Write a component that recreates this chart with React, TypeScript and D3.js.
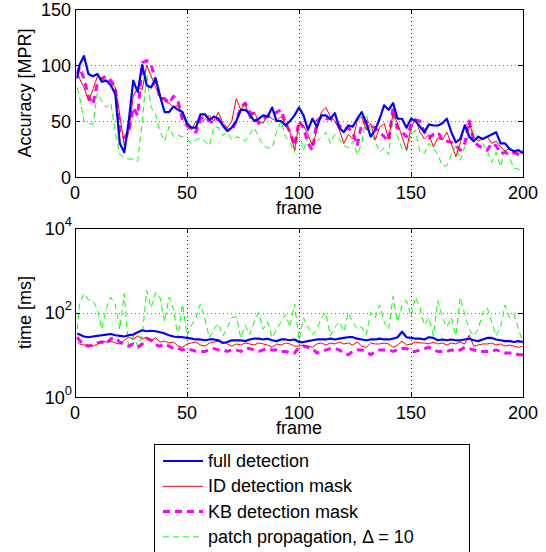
import React, { useEffect, useRef } from 'react'
import * as d3 from 'd3'

// frame numbers the values were read at (first frame, then every 2nd frame)
const frames = [1, ...d3.range(2, 201, 2)]

// top panel: accuracy [MPR]
const accFull = [88,100,108,92,90,92,85,86,82,74,30,22,50,86,76,100,82,80,88,72,58,58,63,60,58,
  48,44,44,56,56,51,54,52,46,41,44,50,60,60,56,50,52,55,54,62,50,50,46,50,55,
  62,55,42,52,45,55,55,52,57,44,40,46,45,52,58,48,36,42,52,64,60,66,52,52,44,
  52,50,45,40,47,46,46,48,52,40,31,34,46,36,32,36,34,36,38,40,30,30,25,23,24,21]
const accID = [95,88,80,68,78,90,88,86,85,80,55,28,40,72,80,78,100,90,80,72,68,66,62,64,56,
  46,42,50,48,52,55,50,58,48,44,50,70,60,66,52,58,50,48,55,52,50,54,48,40,24,
  48,46,38,28,42,58,62,54,50,42,30,38,34,50,54,42,48,33,44,48,34,57,48,36,24,
  44,52,40,34,38,27,35,33,40,30,18,30,46,48,36,32,34,36,30,32,27,23,26,22,21,23]
const accKB = [92,98,88,72,65,84,88,90,86,80,42,35,40,62,55,102,104,100,86,70,70,66,72,68,50,
  46,42,40,52,54,50,48,52,46,42,42,50,62,66,58,56,48,52,54,55,58,60,48,40,28,
  50,44,30,24,50,54,52,52,50,46,42,44,40,28,48,50,46,44,40,36,32,62,44,40,36,
  46,51,50,40,35,38,40,33,32,31,28,24,30,50,32,28,26,24,30,28,21,22,20,22,20,23]
const accPatch = [80,72,50,48,47,75,68,62,66,40,20,17,16,16,14,50,92,62,56,40,32,45,36,37,36,
  34,30,33,35,32,28,45,44,37,40,33,36,35,32,38,44,36,28,26,26,40,50,36,31,22,
  40,24,36,28,32,36,40,30,38,34,28,26,32,20,30,56,40,32,22,26,20,54,36,26,23,
  38,42,22,21,30,26,20,10,10,20,28,15,27,38,42,34,30,24,13,22,9,26,17,8,7,5]

// bottom panel: time [ms]
const timeFull = [32,30,27,26,27,28,29,30,31,29,28,27,29,30,34,38,36,37,36,34,32,29,27,26,26,
  25,24,23,23,22,23,23,22,19,20,22,22,22,21,23,24,24,23,24,22,21,23,23,22,23,
  20,20,21,22,23,23,23,24,23,24,25,26,26,24,23,22,23,23,24,23,23,24,26,35,26,
  25,24,24,23,26,25,22,23,22,23,22,22,23,24,22,21,23,25,25,23,22,21,21,20,21,20]
const timeID = [20,18,17,17,16,18,21,20,21,19,18,22,26,23,28,24,26,22,25,20,21,19,20,16,15,
  18,19,20,17,16,19,20,21,20,18,16,18,17,19,18,17,19,18,17,15,18,17,19,18,16,
  16,17,16,15,18,19,17,19,18,20,18,19,17,20,16,15,19,18,18,19,18,15,17,21,17,
  18,20,19,19,18,20,18,19,17,19,18,20,18,29,16,17,18,18,19,17,18,16,17,16,15,16]
const timeKB = [26,22,17,16,17,19,20,18,24,25,20,17,16,18,15,18,24,22,17,16,18,16,14,14,13,
  14,13,12,12,12,13,14,13,13,12,13,13,12,14,14,13,12,13,14,13,13,12,12,11,11,
  15,16,15,14,11,12,13,14,14,13,11,10,12,13,13,12,10,12,13,13,13,12,13,14,14,
  12,12,13,14,15,13,12,12,12,13,12,13,15,14,13,12,12,12,12,13,12,11,11,11,10,10]
const timePatch = [40,160,280,200,190,120,40,130,230,150,40,280,13,28,16,28,330,130,300,220,60,230,120,25,160,
  28,50,75,160,70,25,40,55,28,45,75,80,25,50,30,60,100,40,60,25,40,60,90,45,160,
  22,75,45,30,40,75,100,28,45,60,35,100,60,40,45,30,100,75,150,60,40,240,60,150,190,
  80,230,130,50,75,28,190,75,45,75,28,230,90,40,28,40,100,130,60,28,45,150,75,90,40,20]

const seriesNames = ['full detection', 'ID detection mask', 'KB detection mask', 'patch propagation, \u0394 = 10']
const xTicks = [0, 50, 100, 150, 200]
const accTicks = [0, 50, 100, 150]
const timeTicks = [1, 100, 10000]
const timeExps = ['0', '2', '4']

const colors = ['#0000ff', '#ff0000', '#ff00ff', '#00ff00']
const widths = [2.2, 1, 3, 1]
const dashes = ['none', 'none', '7,5', '6,4']
const FONT = '"Liberation Sans", Arial, Helvetica, sans-serif'

function App() {
  const svgRef = useRef<SVGSVGElement>(null)

  useEffect(() => {
    const svg = d3.select(svgRef.current)
    svg.selectAll('*').remove()

    const x = d3.scaleLinear().domain([0, 200]).range([75, 523])
    const yAcc = d3.scaleLinear().domain([0, 150]).range([177, 9])
    const yTime = d3.scaleLog().domain([1, 10000]).range([397, 228])

    const panel = (id: string, y: any, ticks: number[], data: number[][], yLabel: string, logLabels: boolean) => {
      const [yb, yt] = y.range()
      const [xl, xr] = x.range()
      const g = svg.append('g')

      g.append('clipPath').attr('id', id).append('rect')
        .attr('x', xl).attr('y', yt).attr('width', xr - xl).attr('height', yb - yt)

      // dotted grid
      g.selectAll('.vg').data(xTicks.slice(1, -1)).join('line')
        .attr('x1', d => Math.round(x(d)) + 0.5).attr('x2', d => Math.round(x(d)) + 0.5)
        .attr('y1', yt).attr('y2', yb)
        .attr('stroke', '#333').attr('stroke-dasharray', '1,3')
      g.selectAll('.hg').data(ticks.slice(1, -1)).join('line')
        .attr('x1', xl).attr('x2', xr)
        .attr('y1', d => Math.round(y(d)) + 0.5).attr('y2', d => Math.round(y(d)) + 0.5)
        .attr('stroke', '#777').attr('stroke-dasharray', '1,3')

      // series, blue drawn last
      const line = d3.line<number>().x((_, j) => x(frames[j])).y(d => y(d))
      ;[3, 2, 1, 0].forEach(i => {
        g.append('path')
          .attr('d', line(data[i]))
          .attr('clip-path', `url(#${id})`)
          .attr('fill', 'none')
          .attr('stroke', colors[i])
          .attr('stroke-width', widths[i])
          .attr('stroke-dasharray', dashes[i])
          .attr('stroke-linejoin', 'round')
      })

      // box + inward ticks
      g.append('rect').attr('x', xl + 0.5).attr('y', yt + 0.5)
        .attr('width', xr - xl).attr('height', yb - yt)
        .attr('fill', 'none').attr('stroke', '#000')
      xTicks.forEach(t => {
        const px = Math.round(x(t)) + 0.5
        g.append('line').attr('x1', px).attr('x2', px).attr('y1', yb).attr('y2', yb - 5).attr('stroke', '#000')
        g.append('line').attr('x1', px).attr('x2', px).attr('y1', yt).attr('y2', yt + 5).attr('stroke', '#000')
        g.append('text').attr('x', x(t)).attr('y', yb + 22)
          .attr('text-anchor', 'middle').attr('font-size', 18).text(t)
      })
      ticks.forEach((t, k) => {
        const py = Math.round(y(t)) + 0.5
        g.append('line').attr('x1', xl).attr('x2', xl + 5).attr('y1', py).attr('y2', py).attr('stroke', '#000')
        g.append('line').attr('x1', xr).attr('x2', xr - 5).attr('y1', py).attr('y2', py).attr('stroke', '#000')
        const txt = g.append('text').attr('x', logLabels ? 72 : 71).attr('y', y(t) + 6.5)
          .attr('text-anchor', 'end').attr('font-size', 18)
        if (logLabels) {
          txt.text('10')
          txt.append('tspan').attr('dy', -9).attr('font-size', 13).text(timeExps[k])
        } else {
          txt.text(t)
        }
      })

      g.append('text').attr('x', (xl + xr) / 2).attr('y', yb + 37)
        .attr('text-anchor', 'middle').attr('font-size', 18).text('frame')
      g.append('text')
        .attr('transform', `translate(31,${(yt + yb) / 2}) rotate(-90)`)
        .attr('text-anchor', 'middle').attr('font-size', 18).text(yLabel)
    }

    panel('clipAcc', yAcc, accTicks, [accFull, accID, accKB, accPatch], 'Accuracy [MPR]', false)
    panel('clipTime', yTime, timeTicks, [timeFull, timeID, timeKB, timePatch], 'time [ms]', true)

    // legend
    const lg = svg.append('g')
    lg.append('rect').attr('x', 154.5).attr('y', 444.5).attr('width', 315).attr('height', 120)
      .attr('fill', '#fff').attr('stroke', '#000')
    seriesNames.forEach((name, i) => {
      const base = 467 + i * 25.3
      lg.append('line').attr('x1', 163).attr('x2', 203).attr('y1', base - 6).attr('y2', base - 6)
        .attr('stroke', colors[i]).attr('stroke-width', widths[i]).attr('stroke-dasharray', dashes[i])
      lg.append('text').attr('x', 208).attr('y', base).attr('font-size', 18).text(name)
    })
  }, [])

  return (
    <svg ref={svgRef} width={546} height={552}
      style={{ position: 'absolute', left: 0, top: 0, background: '#fff', fontFamily: FONT }} />
  )
}

export default App
